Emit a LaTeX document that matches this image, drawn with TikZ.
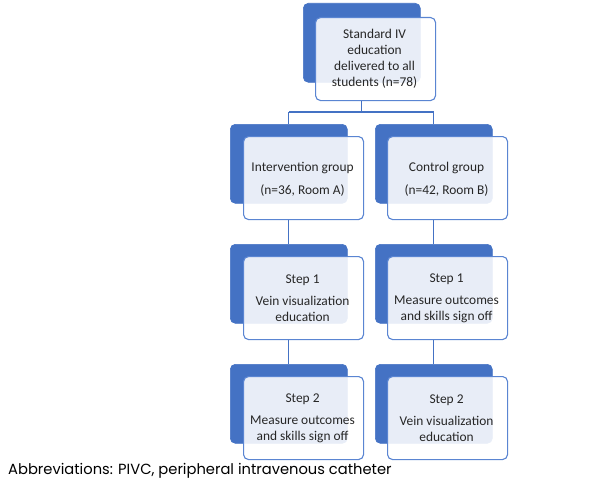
\documentclass[tikz,border=0pt]{standalone}
\usepackage{fontspec}
\setmainfont{Carlito}
\newfontfamily\abbrfont{Poppins}
\definecolor{dblue}{HTML}{4472C4}
\definecolor{eblue}{HTML}{5A85D2}
\definecolor{txt}{HTML}{262626}
\tikzset{
  backbox/.style={fill=dblue, draw=dblue, line width=0.6pt, rounded corners=5pt, minimum width=117pt, minimum height=79pt, anchor=north west, inner sep=0pt},
  frontbox/.style={fill=white, fill opacity=0.88, draw opacity=1, text opacity=1, draw=eblue, line width=1.1pt, rounded corners=5pt, minimum width=120pt, minimum height=83pt, anchor=north west, inner sep=0pt},
  boxtext/.style={text=txt, align=center, font=\fontsize{13.4}{16}\selectfont, inner sep=0pt},
  conn/.style={draw=dblue, line width=1.35pt}
}
\begin{document}
\begin{tikzpicture}[x=1pt,y=-1pt]
\useasboundingbox (0,0) rectangle (599,495);
% top
\node[backbox] (b0) at (303,3) {};
\node[frontbox] (f0) at (315,17) {};
\node[boxtext] (t0) at ([xshift=-1pt]f0.center) {Standard IV\\education\\delivered to all\\students (n=78)};
% row 1
\node[backbox] (bL1) at (230,124) {};
\node[frontbox] (fL1) at (243,136) {};
\node[boxtext] (tL1) at ([xshift=-1pt,yshift=-1pt]fL1.center) {Intervention group\\[7pt](n=36, Room A)};
\node[backbox] (bR1) at (375,124) {};
\node[frontbox] (fR1) at (387,136) {};
\node[boxtext] (tR1) at ([xshift=-1pt,yshift=-1pt]fR1.center) {Control group\\[7pt](n=42, Room B)};
% row 2
\node[backbox] (bL2) at (230,244) {};
\node[frontbox] (fL2) at (243,256) {};
\node[boxtext] (tL2) at ([xshift=-1pt]fL2.center) {Step 1\\[6pt]Vein visualization\\education};
\node[backbox] (bR2) at (375,244) {};
\node[frontbox] (fR2) at (387,256) {};
\node[boxtext] (tR2) at ([xshift=-1pt]fR2.center) {Step 1\\[6pt]Measure outcomes\\and skills sign off};
% row 3
\node[backbox] (bL3) at (230,364) {};
\node[frontbox] (fL3) at (243,376) {};
\node[boxtext] (tL3) at ([xshift=-1pt]fL3.center) {Step 2\\[6pt]Measure outcomes\\and skills sign off};
\node[backbox] (bR3) at (375,364) {};
\node[frontbox] (fR3) at (387,376) {};
\node[boxtext] (tR3) at ([xshift=-1pt]fR3.center) {Step 2\\[6pt]Vein visualization\\education};
% connectors
\draw[conn] (b0.center |- f0.south) -- (b0.center |- 0,112) coordinate (jm)
  (bL1.north |- jm) -- (bR1.north |- jm)
  (bL1.north |- jm) -- (bL1.north)
  (bR1.north |- jm) -- (bR1.north);
\draw[conn] (bL1.center |- fL1.south) -- (bL2.north);
\draw[conn] (bR1.center |- fR1.south) -- (bR2.north);
\draw[conn] (bL2.center |- fL2.south) -- (bL3.north);
\draw[conn] (bR2.center |- fR2.south) -- (bR3.north);
% footnote
\node[anchor=west, inner sep=0pt, text=black, font=\abbrfont\fontsize{14.7}{17}\selectfont] (abbr) at (8,471) {Abbreviations: PIVC, peripheral intravenous catheter};
\end{tikzpicture}
\end{document}
